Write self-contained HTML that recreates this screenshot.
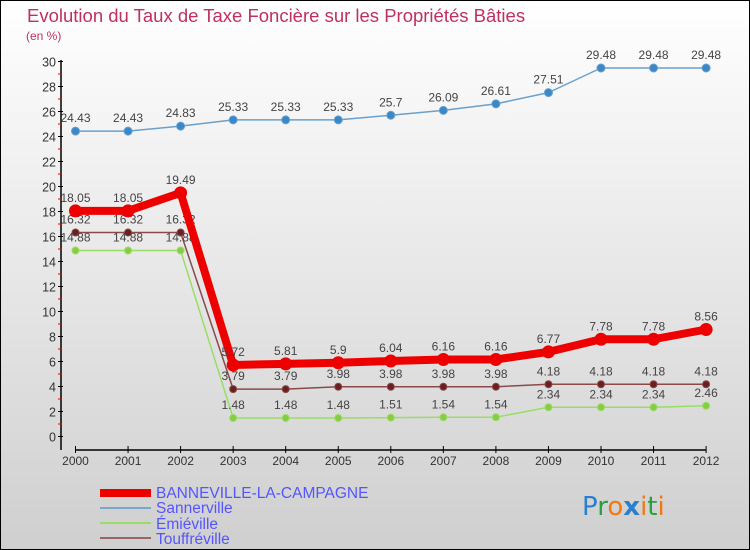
<!DOCTYPE html>
<html><head><meta charset="utf-8"><style>
body{margin:0}
#c{width:750px;height:550px;position:relative;overflow:hidden;font-family:"Liberation Sans",sans-serif}
</style></head><body>
<div id="c">
<svg id="s" width="750" height="550" xmlns="http://www.w3.org/2000/svg">
<defs><linearGradient id="bg" x1="0" y1="0" x2="0" y2="1"><stop offset="0" stop-color="#ffffff"/><stop offset="1" stop-color="#cfcfcf"/></linearGradient></defs>
<rect x="0.5" y="0.5" width="749" height="549" fill="url(#bg)" stroke="#000"/>
<text x="27" y="22" font-size="18.5" fill="#c0305e">Evolution du Taux de Taxe Foncière sur les Propriétés Bâties</text>
<text x="26" y="40" font-size="12" fill="#c0305e">(en %)</text>
<g id="axes"></g><g id="series"></g>
<g font-size="15.5" fill="#5555ff" textLength="0">
<rect x="100" y="489" width="51" height="8" fill="#ee0000"/>
<text x="156" y="498">BANNEVILLE-LA-CAMPAGNE</text>
<rect x="100" y="507" width="51" height="2" fill="#7aa8cc"/>
<text x="156" y="513">Sannerville</text>
<rect x="100" y="522" width="51" height="2" fill="#99dd66"/>
<text x="156" y="529">Émiéville</text>
<rect x="100" y="537" width="51" height="2" fill="#996666"/>
<text x="156" y="544">Touffréville</text>
</g>
<g font-size="26" font-family="DejaVu Sans, sans-serif">
<text x="582" y="515"><tspan fill="#2a7fcf">P</tspan><tspan fill="#2a9f3f">r</tspan><tspan fill="#f07a10">o</tspan><tspan fill="#2a7fcf" font-weight="bold">x</tspan><tspan fill="#f07a10">i</tspan><tspan fill="#2a9f3f">t</tspan><tspan fill="#f07a10">i</tspan></text>
</g>
</svg>
</div>
<script>
const years=[2000,2001,2002,2003,2004,2005,2006,2007,2008,2009,2010,2011,2012];
const banneville=[18.05,18.05,19.49,5.72,5.81,5.9,6.04,6.16,6.16,6.77,7.78,7.78,8.56];
const sannerville=[24.43,24.43,24.83,25.33,25.33,25.33,25.7,26.09,26.61,27.51,29.48,29.48,29.48];
const emieville=[14.88,14.88,14.88,1.48,1.48,1.48,1.51,1.54,1.54,2.34,2.34,2.34,2.46];
const touffreville=[16.32,16.32,16.32,3.79,3.79,3.98,3.98,3.98,3.98,4.18,4.18,4.18,4.18];
const yTicks=[0,2,4,6,8,10,12,14,16,18,20,22,24,26,28,30];
const NS="http://www.w3.org/2000/svg";
const X=i=>75.5+52.55*i, Y=v=>436.5-12.5*v;
function mk(t,a,p){const e=document.createElementNS(NS,t);for(const k in a)e.setAttribute(k,a[k]);p.appendChild(e);return e;}
const ax=document.getElementById('axes'), se=document.getElementById('series');
const yl=mk('line',{x1:61,y1:60,x2:61,y2:450,stroke:'#000','stroke-width':1.5},ax);


const xl=mk('line',{x1:75,y1:450,x2:706,y2:450,stroke:'#000','stroke-width':1.5},ax);


yTicks.forEach(v=>{
 mk('line',{x1:58,x2:63,y1:Y(v),y2:Y(v),stroke:'#000'},ax);
 if(v<30) mk('line',{x1:58,x2:62,y1:Y(v+1),y2:Y(v+1),stroke:'#e00'},ax);
 const t=mk('text',{x:56,y:Y(v)+5,'text-anchor':'end','font-size':12.5,fill:'#333'},ax);t.textContent=v;
 
 
});
years.forEach((yr,i)=>{
 mk('line',{x1:X(i),x2:X(i),y1:446,y2:453,stroke:'#000'},ax);
 const t=mk('text',{x:X(i),y:465,'text-anchor':'middle','font-size':12,fill:'#333'},ax);t.textContent=yr;
 
 
});
function draw(data,color,w,r,dot,name){
 const g=mk('g',{},se);
 
 
 mk('polyline',{points:data.map((v,i)=>X(i)+','+Y(v)).join(' '),fill:'none',stroke:color,'stroke-width':w,'stroke-linejoin':'round'},g);
 data.forEach((v,i)=>{
  const c=mk('circle',{cx:X(i),cy:Y(v),r:r,fill:dot,stroke:color,'stroke-width':1},g);
  
  
  const t=mk('text',{x:X(i),y:Y(v)-9,'text-anchor':'middle','font-size':12,fill:'#444'},g);t.textContent=v;
 });
}
draw(sannerville,'#6aa0cc',1.5,4,'#3a88c8','series-sannerville');
draw(touffreville,'#8a4a4a',1.5,3.5,'#6a2020','series-touffreville');
draw(emieville,'#99dd66',1.5,3.5,'#88cc44','series-emieville');
draw(banneville,'#ee0000',8,6,'#ee0000','series-banneville');
</script>
</body></html>
